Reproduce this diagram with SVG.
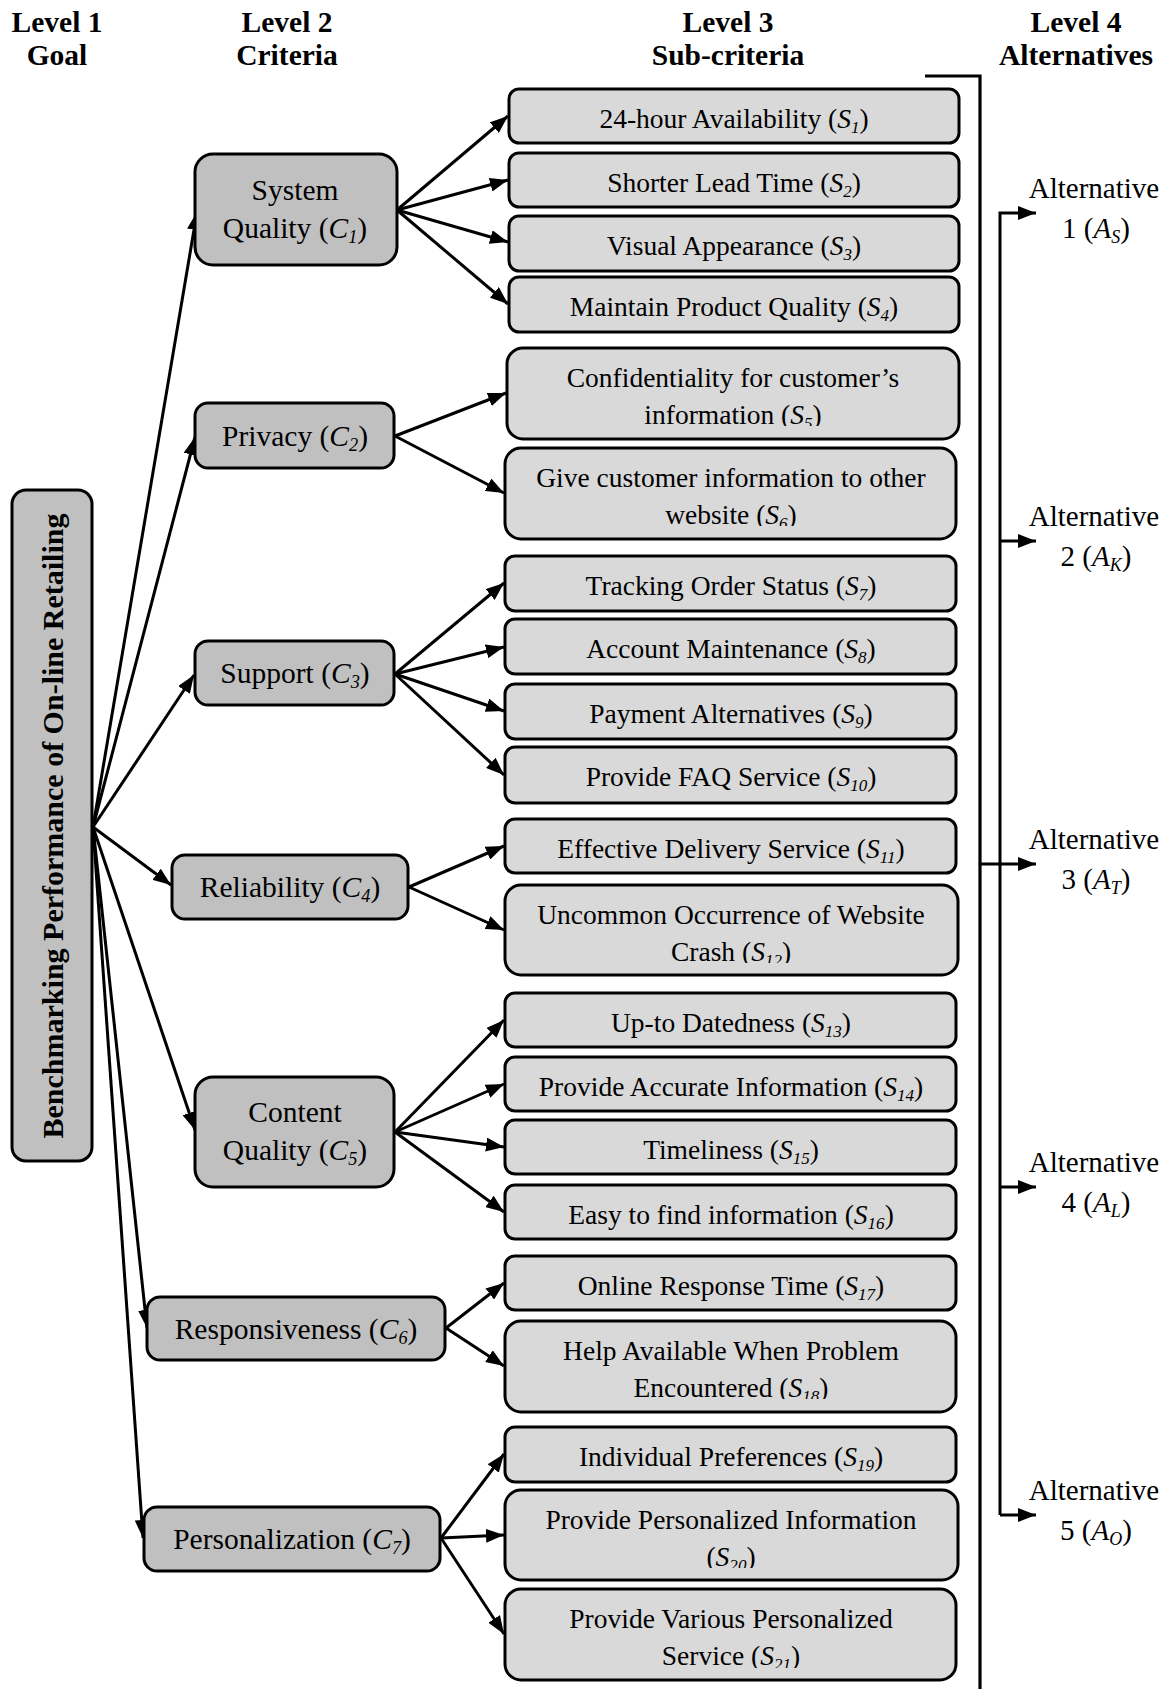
<svg xmlns="http://www.w3.org/2000/svg" width="1168" height="1689" viewBox="0 0 1168 1689">
<defs>
<style>
.hdr{font-family:"Liberation Serif","Times New Roman",serif;font-weight:bold;font-size:29.5px;text-anchor:middle;fill:#000}
.goal{fill:#c0c0c0;stroke:#000;stroke-width:3}
.crit{fill:#c0c0c0;stroke:#000;stroke-width:3}
.sub{fill:#d9d9d9;stroke:#000;stroke-width:3}
.ct{font-family:"Liberation Serif","Times New Roman",serif;font-size:29.5px;text-anchor:middle;fill:#000}
.st{font-family:"Liberation Serif","Times New Roman",serif;font-size:27.5px;text-anchor:middle;fill:#000}
.at{font-family:"Liberation Serif","Times New Roman",serif;font-size:29px;text-anchor:middle;fill:#000}
.gt{font-family:"Liberation Serif","Times New Roman",serif;font-weight:bold;font-size:30px;text-anchor:middle;fill:#000}
.i{font-style:italic}
.sb{font-style:italic;font-size:0.62em}
.ln{fill:none;stroke:#000;stroke-width:3;marker-end:url(#ah)}
.br{fill:none;stroke:#000;stroke-width:3.2}
</style>
<marker id="ah" markerUnits="userSpaceOnUse" markerWidth="19" markerHeight="14" refX="18" refY="7" orient="auto">
<path d="M0,0 L18,7 L0,14 z" fill="#000"/>
</marker>
<clipPath id="c5"><rect x="507" y="348" width="454" height="78"/></clipPath>
<clipPath id="c6"><rect x="505" y="448" width="454" height="78"/></clipPath>
<clipPath id="c12"><rect x="505" y="885" width="454" height="78"/></clipPath>
<clipPath id="c18"><rect x="505" y="1321" width="454" height="78"/></clipPath>
<clipPath id="c20"><rect x="505" y="1490" width="454" height="78"/></clipPath>
<clipPath id="c21"><rect x="505" y="1589" width="454" height="79"/></clipPath>
</defs>
<rect width="1168" height="1689" fill="#fff"/>

<g id="headers">
<text class="hdr" x="57" y="32">Level 1</text>
<text class="hdr" x="57" y="65">Goal</text>
<text class="hdr" x="287" y="32">Level 2</text>
<text class="hdr" x="287" y="65">Criteria</text>
<text class="hdr" x="728" y="32">Level 3</text>
<text class="hdr" x="728" y="65">Sub-criteria</text>
<text class="hdr" x="1076" y="32">Level 4</text>
<text class="hdr" x="1076" y="65">Alternatives</text>
</g>

<g id="connectors">
<line class="ln" x1="93" y1="827" x2="197" y2="212"/>
<line class="ln" x1="93" y1="827" x2="195" y2="437"/>
<line class="ln" x1="93" y1="827" x2="194" y2="675"/>
<line class="ln" x1="93" y1="827" x2="171" y2="885"/>
<line class="ln" x1="93" y1="827" x2="195" y2="1130"/>
<line class="ln" x1="93" y1="827" x2="147" y2="1328"/>
<line class="ln" x1="93" y1="827" x2="143" y2="1538"/>

<line class="ln" x1="397" y1="210" x2="508" y2="116"/>
<line class="ln" x1="397" y1="210" x2="508" y2="180"/>
<line class="ln" x1="397" y1="210" x2="508" y2="242"/>
<line class="ln" x1="397" y1="210" x2="508" y2="304"/>

<line class="ln" x1="395" y1="436" x2="506" y2="393"/>
<line class="ln" x1="395" y1="436" x2="504" y2="493"/>

<line class="ln" x1="395" y1="674" x2="504" y2="583"/>
<line class="ln" x1="395" y1="674" x2="504" y2="647"/>
<line class="ln" x1="395" y1="674" x2="504" y2="711"/>
<line class="ln" x1="395" y1="674" x2="504" y2="775"/>

<line class="ln" x1="409" y1="887" x2="504" y2="846"/>
<line class="ln" x1="409" y1="887" x2="504" y2="930"/>

<line class="ln" x1="395" y1="1132" x2="504" y2="1020"/>
<line class="ln" x1="395" y1="1132" x2="504" y2="1084"/>
<line class="ln" x1="395" y1="1132" x2="504" y2="1147"/>
<line class="ln" x1="395" y1="1132" x2="504" y2="1212"/>

<line class="ln" x1="446" y1="1328" x2="504" y2="1283"/>
<line class="ln" x1="446" y1="1328" x2="504" y2="1366"/>

<line class="ln" x1="441" y1="1538" x2="504" y2="1454"/>
<line class="ln" x1="441" y1="1538" x2="504" y2="1535"/>
<line class="ln" x1="441" y1="1538" x2="504" y2="1634"/>

<polyline class="br" points="925,76 980,76 980,1689"/>
<path class="ln" d="M1000,1515 V213 H1036"/>
<path class="ln" d="M1000,1515 H1036"/>
<line class="ln" x1="1000" y1="541" x2="1036" y2="541"/>
<line class="ln" x1="980" y1="864" x2="1036" y2="864"/>
<line class="ln" x1="1000" y1="1187" x2="1036" y2="1187"/>
</g>

<g id="goal">
<rect class="goal" x="12" y="490" width="80" height="671" rx="14"/>
<text class="gt" transform="translate(63,826) rotate(-90)">Benchmarking Performance of On-line Retailing</text>
</g>

<g id="C1">
<rect class="crit" x="195" y="154" width="202" height="111" rx="18"/>
<text class="ct" x="295" y="200">System</text>
<text class="ct" x="295" y="238">Quality (<tspan class="i">C</tspan><tspan class="sb" dy="5">1</tspan><tspan dy="-5">)</tspan></text>
</g>
<g id="C2">
<rect class="crit" x="195" y="403" width="199" height="65" rx="13"/>
<text class="ct" x="295" y="446">Privacy (<tspan class="i">C</tspan><tspan class="sb" dy="5">2</tspan><tspan dy="-5">)</tspan></text>
</g>
<g id="C3">
<rect class="crit" x="195" y="641" width="199" height="64" rx="13"/>
<text class="ct" x="295" y="683">Support (<tspan class="i">C</tspan><tspan class="sb" dy="5">3</tspan><tspan dy="-5">)</tspan></text>
</g>
<g id="C4">
<rect class="crit" x="172" y="855" width="236" height="64" rx="13"/>
<text class="ct" x="290" y="897">Reliability (<tspan class="i">C</tspan><tspan class="sb" dy="5">4</tspan><tspan dy="-5">)</tspan></text>
</g>
<g id="C5">
<rect class="crit" x="195" y="1077" width="199" height="110" rx="18"/>
<text class="ct" x="295" y="1122">Content</text>
<text class="ct" x="295" y="1160">Quality (<tspan class="i">C</tspan><tspan class="sb" dy="5">5</tspan><tspan dy="-5">)</tspan></text>
</g>
<g id="C6">
<rect class="crit" x="147" y="1297" width="298" height="63" rx="13"/>
<text class="ct" x="296" y="1339">Responsiveness (<tspan class="i">C</tspan><tspan class="sb" dy="5">6</tspan><tspan dy="-5">)</tspan></text>
</g>
<g id="C7">
<rect class="crit" x="144" y="1507" width="296" height="64" rx="13"/>
<text class="ct" x="292" y="1549">Personalization (<tspan class="i">C</tspan><tspan class="sb" dy="5">7</tspan><tspan dy="-5">)</tspan></text>
</g>

<g id="S1"><rect class="sub" x="509" y="89" width="450" height="54" rx="10"/>
<text class="st" x="734" y="128">24-hour Availability (<tspan class="i">S</tspan><tspan class="sb" dy="5">1</tspan><tspan dy="-5">)</tspan></text></g>
<g id="S2"><rect class="sub" x="509" y="153" width="450" height="54" rx="10"/>
<text class="st" x="734" y="192">Shorter Lead Time (<tspan class="i">S</tspan><tspan class="sb" dy="5">2</tspan><tspan dy="-5">)</tspan></text></g>
<g id="S3"><rect class="sub" x="509" y="216" width="450" height="55" rx="10"/>
<text class="st" x="734" y="255">Visual Appearance (<tspan class="i">S</tspan><tspan class="sb" dy="5">3</tspan><tspan dy="-5">)</tspan></text></g>
<g id="S4"><rect class="sub" x="509" y="277" width="450" height="55" rx="10"/>
<text class="st" x="734" y="316">Maintain Product Quality (<tspan class="i">S</tspan><tspan class="sb" dy="5">4</tspan><tspan dy="-5">)</tspan></text></g>
<g id="S5"><rect class="sub" x="507" y="348" width="452" height="91" rx="16"/>
<text class="st" x="733" y="387">Confidentiality for customer’s</text>
<text class="st" x="733" y="424" clip-path="url(#c5)">information (<tspan class="i">S</tspan><tspan class="sb" dy="5">5</tspan><tspan dy="-5">)</tspan></text></g>
<g id="S6"><rect class="sub" x="505" y="448" width="451" height="91" rx="16"/>
<text class="st" x="731" y="487">Give customer information to other</text>
<text class="st" x="731" y="524" clip-path="url(#c6)">website (<tspan class="i">S</tspan><tspan class="sb" dy="5">6</tspan><tspan dy="-5">)</tspan></text></g>
<g id="S7"><rect class="sub" x="505" y="556" width="451" height="55" rx="10"/>
<text class="st" x="731" y="595">Tracking Order Status (<tspan class="i">S</tspan><tspan class="sb" dy="5">7</tspan><tspan dy="-5">)</tspan></text></g>
<g id="S8"><rect class="sub" x="505" y="619" width="451" height="55" rx="10"/>
<text class="st" x="731" y="658">Account Maintenance (<tspan class="i">S</tspan><tspan class="sb" dy="5">8</tspan><tspan dy="-5">)</tspan></text></g>
<g id="S9"><rect class="sub" x="505" y="684" width="451" height="55" rx="10"/>
<text class="st" x="731" y="723">Payment Alternatives (<tspan class="i">S</tspan><tspan class="sb" dy="5">9</tspan><tspan dy="-5">)</tspan></text></g>
<g id="S10"><rect class="sub" x="505" y="747" width="451" height="56" rx="10"/>
<text class="st" x="731" y="786">Provide FAQ Service (<tspan class="i">S</tspan><tspan class="sb" dy="5">10</tspan><tspan dy="-5">)</tspan></text></g>
<g id="S11"><rect class="sub" x="505" y="819" width="451" height="54" rx="10"/>
<text class="st" x="731" y="858">Effective Delivery Service (<tspan class="i">S</tspan><tspan class="sb" dy="5">11</tspan><tspan dy="-5">)</tspan></text></g>
<g id="S12"><rect class="sub" x="505" y="885" width="453" height="90" rx="16"/>
<text class="st" x="731" y="924">Uncommon Occurrence of Website</text>
<text class="st" x="731" y="961" clip-path="url(#c12)">Crash (<tspan class="i">S</tspan><tspan class="sb" dy="5">12</tspan><tspan dy="-5">)</tspan></text></g>
<g id="S13"><rect class="sub" x="505" y="993" width="451" height="54" rx="10"/>
<text class="st" x="731" y="1032">Up-to Datedness (<tspan class="i">S</tspan><tspan class="sb" dy="5">13</tspan><tspan dy="-5">)</tspan></text></g>
<g id="S14"><rect class="sub" x="505" y="1057" width="451" height="54" rx="10"/>
<text class="st" x="731" y="1096">Provide Accurate Information (<tspan class="i">S</tspan><tspan class="sb" dy="5">14</tspan><tspan dy="-5">)</tspan></text></g>
<g id="S15"><rect class="sub" x="505" y="1120" width="451" height="54" rx="10"/>
<text class="st" x="731" y="1159">Timeliness (<tspan class="i">S</tspan><tspan class="sb" dy="5">15</tspan><tspan dy="-5">)</tspan></text></g>
<g id="S16"><rect class="sub" x="505" y="1185" width="451" height="54" rx="10"/>
<text class="st" x="731" y="1224">Easy to find information (<tspan class="i">S</tspan><tspan class="sb" dy="5">16</tspan><tspan dy="-5">)</tspan></text></g>
<g id="S17"><rect class="sub" x="505" y="1256" width="451" height="54" rx="10"/>
<text class="st" x="731" y="1295">Online Response Time (<tspan class="i">S</tspan><tspan class="sb" dy="5">17</tspan><tspan dy="-5">)</tspan></text></g>
<g id="S18"><rect class="sub" x="505" y="1321" width="451" height="91" rx="16"/>
<text class="st" x="731" y="1360">Help Available When Problem</text>
<text class="st" x="731" y="1397" clip-path="url(#c18)">Encountered (<tspan class="i">S</tspan><tspan class="sb" dy="5">18</tspan><tspan dy="-5">)</tspan></text></g>
<g id="S19"><rect class="sub" x="505" y="1427" width="451" height="55" rx="10"/>
<text class="st" x="731" y="1466">Individual Preferences (<tspan class="i">S</tspan><tspan class="sb" dy="5">19</tspan><tspan dy="-5">)</tspan></text></g>
<g id="S20"><rect class="sub" x="505" y="1490" width="453" height="90" rx="16"/>
<text class="st" x="731" y="1529">Provide Personalized Information</text>
<text class="st" x="731" y="1566" clip-path="url(#c20)">(<tspan class="i">S</tspan><tspan class="sb" dy="5">20</tspan><tspan dy="-5">)</tspan></text></g>
<g id="S21"><rect class="sub" x="505" y="1589" width="451" height="91" rx="16"/>
<text class="st" x="731" y="1628">Provide Various Personalized</text>
<text class="st" x="731" y="1665" clip-path="url(#c21)">Service (<tspan class="i">S</tspan><tspan class="sb" dy="5">21</tspan><tspan dy="-5">)</tspan></text></g>

<g id="A1"><text class="at" x="1094" y="198">Alternative</text>
<text class="at" x="1096" y="238">1 (<tspan class="i">A</tspan><tspan class="sb" dy="5">S</tspan><tspan dy="-5">)</tspan></text></g>
<g id="A2"><text class="at" x="1094" y="526">Alternative</text>
<text class="at" x="1096" y="566">2 (<tspan class="i">A</tspan><tspan class="sb" dy="5">K</tspan><tspan dy="-5">)</tspan></text></g>
<g id="A3"><text class="at" x="1094" y="849">Alternative</text>
<text class="at" x="1096" y="889">3 (<tspan class="i">A</tspan><tspan class="sb" dy="5">T</tspan><tspan dy="-5">)</tspan></text></g>
<g id="A4"><text class="at" x="1094" y="1172">Alternative</text>
<text class="at" x="1096" y="1212">4 (<tspan class="i">A</tspan><tspan class="sb" dy="5">L</tspan><tspan dy="-5">)</tspan></text></g>
<g id="A5"><text class="at" x="1094" y="1500">Alternative</text>
<text class="at" x="1096" y="1540">5 (<tspan class="i">A</tspan><tspan class="sb" dy="5">O</tspan><tspan dy="-5">)</tspan></text></g>
</svg>
